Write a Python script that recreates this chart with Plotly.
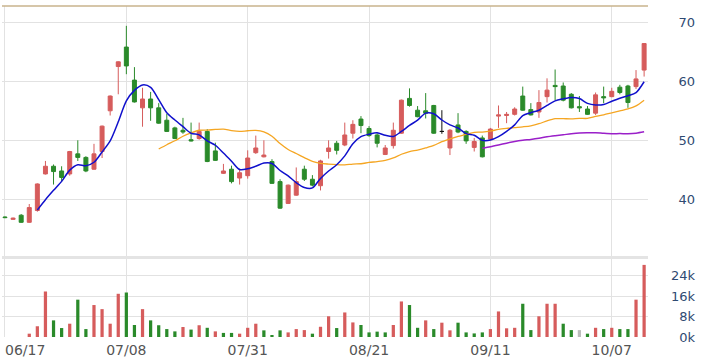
import plotly.graph_objects as go
import pandas as pd

dates = [
    "2024-06-17", "2024-06-18", "2024-06-19", "2024-06-20", "2024-06-21",
    "2024-06-24", "2024-06-25", "2024-06-26", "2024-06-27", "2024-06-28",
    "2024-07-01", "2024-07-02", "2024-07-03", "2024-07-04", "2024-07-05",
    "2024-07-08", "2024-07-09", "2024-07-10", "2024-07-11", "2024-07-12",
    "2024-07-15", "2024-07-16", "2024-07-17", "2024-07-18", "2024-07-19",
    "2024-07-22", "2024-07-23", "2024-07-26", "2024-07-29", "2024-07-30",
    "2024-07-31", "2024-08-01", "2024-08-02", "2024-08-05", "2024-08-06",
    "2024-08-07", "2024-08-08", "2024-08-09", "2024-08-12", "2024-08-13",
    "2024-08-14", "2024-08-15", "2024-08-16", "2024-08-19", "2024-08-20",
    "2024-08-21", "2024-08-22", "2024-08-23", "2024-08-26", "2024-08-27",
    "2024-08-28", "2024-08-29", "2024-08-30", "2024-09-02", "2024-09-03",
    "2024-09-04", "2024-09-05", "2024-09-06", "2024-09-09", "2024-09-10",
    "2024-09-11", "2024-09-12", "2024-09-13", "2024-09-16", "2024-09-18",
    "2024-09-19", "2024-09-20", "2024-09-23", "2024-09-24", "2024-09-25",
    "2024-09-26", "2024-09-27", "2024-09-30", "2024-10-01", "2024-10-04",
    "2024-10-07", "2024-10-08", "2024-10-09", "2024-10-11", "2024-10-14",
]

open_ = [
    37.0, 36.6, 37.3, 36.1, 38.1, 44.3, 45.6, 44.8, 44.3, 47.7,
    47.1, 45.1, 48.1, 55.0, 62.5, 65.8, 60.2, 55.5, 57.0, 55.5,
    53.4, 52.1, 51.7, 50.1, 50.3, 51.5, 48.2, 44.4, 45.1, 43.6,
    44.0, 47.9, 47.2, 46.4, 43.0, 39.3, 40.7, 45.1, 43.4, 42.3,
    48.1, 49.5, 49.2, 51.2, 53.6, 52.0, 50.9, 47.6, 49.1, 51.2,
    57.1, 55.1, 55.0, 55.9, 51.5, 48.7, 52.6, 51.5, 48.8, 50.4,
    50.2, 54.1, 54.2, 54.4, 57.5, 55.2, 54.8, 57.4, 59.3, 59.2,
    57.8, 55.7, 55.3, 54.6, 57.4, 57.4, 59.0, 59.2, 59.1, 61.9,
]
high = [
    37.1, 36.9, 37.5, 39.2, 42.7, 46.5, 45.9, 45.6, 48.2, 50.0,
    47.3, 49.4, 52.5, 57.6, 63.4, 69.4, 62.4, 58.9, 58.2, 56.3,
    54.5, 52.3, 53.8, 53.0, 53.0, 51.9, 49.6, 46.0, 45.7, 45.2,
    48.3, 50.8, 50.0, 46.8, 43.4, 42.5, 45.4, 45.7, 44.1, 46.7,
    50.0, 49.9, 53.0, 53.4, 54.1, 52.4, 51.2, 49.2, 53.0, 56.9,
    58.8, 55.8, 58.0, 56.0, 55.1, 51.9, 54.6, 51.7, 50.4, 50.8,
    52.1, 55.9, 54.8, 55.6, 59.1, 56.3, 58.5, 60.5, 62.0, 59.8,
    58.0, 57.5, 55.8, 58.1, 59.1, 58.9, 59.4, 59.4, 61.9, 66.4,
]
low = [
    36.8, 36.5, 36.0, 36.0, 37.9, 44.2, 42.5, 43.0, 44.0, 46.5,
    44.6, 45.0, 47.0, 54.2, 57.8, 61.2, 56.4, 52.3, 53.3, 52.8,
    51.4, 50.2, 51.1, 49.8, 50.1, 46.3, 46.5, 44.3, 42.7, 42.5,
    43.5, 47.7, 47.1, 42.6, 38.4, 39.2, 40.6, 43.1, 42.2, 41.5,
    46.9, 47.6, 49.0, 50.3, 51.2, 50.6, 48.8, 47.5, 48.6, 51.1,
    55.7, 53.9, 53.7, 51.1, 51.1, 47.5, 51.2, 49.4, 48.1, 47.1,
    50.0, 52.1, 52.9, 54.2, 55.0, 54.2, 53.8, 56.4, 56.8, 56.6,
    55.4, 54.8, 54.3, 54.3, 56.3, 57.3, 57.8, 55.5, 58.7, 60.8,
]
close = [
    36.9, 36.8, 36.1, 38.6, 42.6, 45.6, 44.7, 43.7, 48.1, 47.1,
    44.8, 47.7, 52.4, 57.5, 63.3, 62.6, 56.5, 57.0, 55.5, 52.9,
    51.5, 50.3, 51.4, 49.9, 51.5, 46.4, 46.6, 44.8, 43.0, 44.5,
    47.0, 48.7, 47.5, 42.7, 38.5, 42.4, 43.0, 43.4, 42.4, 46.5,
    48.7, 48.3, 50.9, 52.7, 52.5, 50.8, 49.5, 48.7, 51.7, 56.8,
    55.9, 54.0, 54.6, 51.2, 51.5, 51.7, 51.4, 49.9, 49.8, 47.2,
    51.9, 54.3, 54.4, 55.3, 55.1, 54.3, 56.4, 58.5, 59.1, 56.8,
    55.5, 55.5, 54.4, 57.7, 57.2, 58.3, 58.1, 56.4, 60.4, 66.4,
]
# volume in thousands of shares
volume = [
    0, 0, 0, 1.3, 4.2, 17.8, 6.5, 3.5, 5.2, 14.6,
    3.1, 12.5, 10.9, 5.2, 16.9, 17.4, 4.7, 10.9, 6.5, 4.6,
    3.1, 2.2, 3.9, 2.9, 4.6, 3.6, 2.2, 1.6, 1.6, 1.3,
    3.6, 5.2, 2.6, 0.5, 2.6, 1.8, 3.1, 2.7, 1.3, 4.0,
    8.1, 3.5, 9.6, 5.7, 4.7, 1.8, 2.1, 1.8, 4.7, 13.9,
    12.5, 3.6, 6.5, 3.1, 5.6, 2.6, 5.6, 1.8, 1.4, 1.8,
    3.1, 10.0, 3.4, 3.6, 13.0, 2.7, 8.1, 13.0, 13.0, 5.2,
    2.7, 2.7, 1.3, 3.6, 3.1, 3.6, 3.1, 3.1, 14.6, 28.2,
]

tick_dates = ["2024-06-17", "2024-07-08", "2024-07-31", "2024-08-21", "2024-09-11", "2024-10-07"]
tick_labels = ["06/17", "07/08", "07/31", "08/21", "09/11", "10/07"]
price_ticks = [40, 50, 60, 70]
volume_ticks = [0, 8, 16, 24]
volume_tick_labels = ["0k", "8k", "16k", "24k"]

RED = "#d65c5c"
GREEN = "#2a8a2a"
GRAY = "#bdbdbd"
GRID = "#e2e2e2"

n = len(dates)
flat = [open_[i] == close[i] for i in range(n)]
not_flat = [not f for f in flat]


def pick(arr, keep):
    return [arr[i] if keep[i] else None for i in range(n)]


cs = pd.Series(close)


def ma(k):
    return [None if pd.isna(v) else float(v) for v in cs.rolling(k).mean()]


vol_colors = []
for i in range(n):
    if i == 0:
        vol_colors.append(RED)
    elif close[i] > close[i - 1]:
        vol_colors.append(RED)
    elif close[i] < close[i - 1]:
        vol_colors.append(GREEN)
    else:
        vol_colors.append(GRAY)

fig = go.Figure()

fig.add_trace(go.Candlestick(
    x=dates, open=pick(open_, not_flat), high=pick(high, not_flat),
    low=pick(low, not_flat), close=pick(close, not_flat),
    increasing=dict(line=dict(color=RED, width=1), fillcolor=RED),
    decreasing=dict(line=dict(color=GREEN, width=1), fillcolor=GREEN),
    whiskerwidth=0, showlegend=False, hoverinfo="skip",
    xaxis="x", yaxis="y",
))
fig.add_trace(go.Candlestick(
    x=dates, open=pick(open_, flat), high=pick(high, flat),
    low=pick(low, flat), close=pick(close, flat),
    increasing=dict(line=dict(color="#111111", width=1), fillcolor="#111111"),
    decreasing=dict(line=dict(color="#111111", width=1), fillcolor="#111111"),
    whiskerwidth=0, showlegend=False, hoverinfo="skip",
    xaxis="x", yaxis="y",
))

for k, col, w in [(60, "#9a1fc9", 1.5), (20, "#f5a623", 1.3), (5, "#1010cc", 1.5)]:
    fig.add_trace(go.Scatter(
        x=dates, y=ma(k), mode="lines",
        line=dict(color=col, width=w, shape="spline", smoothing=0.8),
        showlegend=False, hoverinfo="skip", xaxis="x", yaxis="y",
    ))

fig.add_trace(go.Bar(
    x=dates, y=volume, marker=dict(color=vol_colors, line=dict(width=0)),
    width=0.4, showlegend=False, hoverinfo="skip", xaxis="x2", yaxis="y2",
))
# carrier trace for the overlay axis that holds the first (edge) date label
fig.add_trace(go.Scatter(
    x=dates, y=[None] * n, mode="lines", showlegend=False, hoverinfo="skip",
    xaxis="x3", yaxis="y2",
))

XD = 646 / 698
XRANGE = [-0.37, 79.48]
xcommon = dict(
    type="category", categoryorder="array", categoryarray=dates,
    range=XRANGE, domain=[0, XD], automargin=False,
    zeroline=False, ticks="", fixedrange=True,
    rangeslider=dict(visible=False),
)
date_font = dict(color="#555555", size=14, family="DejaVu Sans")
ycommon = dict(anchor="free", position=0.993, side="left", automargin=False,
               showgrid=True, gridcolor=GRID, zeroline=False, ticks="",
               tickfont=dict(color="#2f4a72", size=13, family="DejaVu Sans"),
               fixedrange=True)
fig.update_layout(
    width=710, height=362,
    margin=dict(l=2, r=10, t=6, b=25, autoexpand=False),
    paper_bgcolor="white", plot_bgcolor="white",
    font=dict(family="DejaVu Sans", size=13),
    xaxis=dict(**xcommon, anchor="y", showticklabels=False,
               tickvals=tick_dates, showgrid=True, gridcolor=GRID,
               showline=True, linecolor="#e4e4e4", linewidth=3),
    xaxis2=dict(**xcommon, anchor="y2", showticklabels=True,
                tickvals=tick_dates, ticktext=[""] + tick_labels[1:],
                showgrid=True, gridcolor=GRID,
                tickfont=date_font, ticklabelstandoff=3, showline=False),
    xaxis3=dict(**xcommon, anchor="y2", overlaying="x2", showticklabels=True,
                tickvals=tick_dates[:1], ticktext=tick_labels[:1],
                ticklabelposition="outside right", showgrid=False,
                tickfont=date_font, ticklabelstandoff=3, showline=False),
    yaxis=dict(**ycommon, domain=[0.2447, 1], range=[30.39, 72.76],
               tickvals=price_ticks),
    yaxis2=dict(**ycommon, domain=[0, 0.2356], range=[0, 30.5],
                tickvals=volume_ticks, ticktext=volume_tick_labels),
    bargap=0.6,
    shapes=[dict(type="line", xref="x domain", yref="y domain",
                 x0=0, x1=1, y0=1, y1=1,
                 line=dict(color="#c8b38c", width=1.5))],
)

fig.write_html("out.html")
